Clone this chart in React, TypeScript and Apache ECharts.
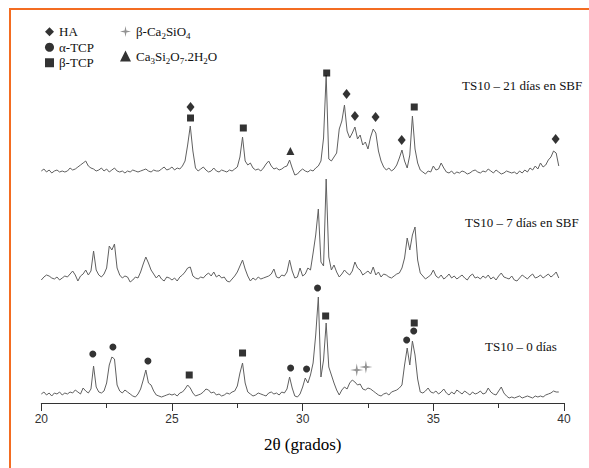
import React, { useEffect, useRef } from "react";
import * as echarts from "echarts";

// 2θ sampling of the traces
const THETA_START = 20;
const THETA_STEP = 0.1;

// Heights above each trace's baseline, 20.0 … 39.8 step 0.1
const ts21 = [
  2, 4, 1, 3, 0, 2, 3, 1, 2, 1,
  2, 5, 3, 4, 6, 8, 10, 12, 7, 5,
  4, 2, 3, 5, 2, 4, 1, 3, 5, 2,
  1, 2, 0, 2, 1, 3, 2, 1, 2, 3,
  4, 2, 1, 3, 2, 2, 4, 6, 3, 4,
  6, 3, 5, 4, 7, 12, 28, 47, 22, 5,
  2, 4, 6, 3, 1, 2, 5, 2, 1, 3,
  2, 1, 3, 2, 4, 6, 16, 36, 12, 8,
  10, 5, 3, 4, 2, 5, 9, 12, 7, 4,
  5, 3, 4, 6, 7, 13, 5, -2, -1, 2,
  4, 2, 1, 3, 2, 5, 7, 12, 35, 98,
  14, 12, 16, 20, 44, 52, 68, 42, 35, 40,
  46, 34, 38, 28, 31, 24, 36, 44, 40, 22,
  12, 6, 3, 5, 2, 4, 8, 15, 23, 12,
  5, 18, 57, 24, 10, 3, 1, -1, 2, 1,
  7, 3, 4, 10, 5, 1, 0, 2, -1, 1,
  0, 2, 1, -1, 0, 2, 3, 1, 0, 2,
  1, 4, 2, 0, 3, 1, -1, 0, 2, 1,
  0, 1, -1, 2, 0, 3, 1, 5, 3, 7,
  4, 10, 6, 8, 13, 16, 22, 20, 7,
];

const ts7 = [
  0, 3, 5, 4, 2, 1, 3, 0, 2, 4,
  3, 6, 9, 5, -1, 4, 6, 10, 5, 9,
  29, 10, 5, 3, 6, 12, 34, 30, 36, 12,
  5, 2, 4, 3, -2, 0, 3, 2, 8, 16,
  23, 17, 10, 6, 2, 5, 1, -1, 3, 2,
  0, 2, -1, 3, 5, 8, 12, 13, 4, 2,
  1, 3, 2, 5, 7, 4, 8, 3, 5, 2,
  3, -1, -2, 1, 4, 8, 14, 20, 11, 4,
  -1, 2, 0, 3, 1, 2, 3, 4, 6, 11,
  3, 2, 5, 4, 8, 20, 9, 2, 3, 12,
  4, 6, 12, 10, 27, 45, 71, 18, 14, 101,
  23, 10, 15, 8, 3, 6, 10, 7, 5, 9,
  18, 12, 10, 5, 7, 9, 6, 13, 5, 8,
  3, 6, 5, 3, 2, 4, 6, 7, 12, 22,
  42, 30, 45, 53, 20, 7, 4, 1, 3, 5,
  10, 4, 2, 5, 1, 3, 6, 2, 4, 1,
  3, 5, 2, 0, 4, 6, 2, 3, 1, 4,
  2, 5, 1, 3, 0, 4, 7, 3, 2, 1,
  4, 0, -1, 2, 5, 3, 1, 4, 6, 2,
  3, 5, 2, 4, 6, 3, 5, 8, 2,
];

const ts0 = [
  1, 3, 0, 2, -1, 2, 1, 3, 0, 2,
  1, 3, 2, 5, 3, 1, 7, 4, 2, 6,
  29, 8, 3, 2, 4, 12, 30, 38, 36, 10,
  4, 2, 5, 3, 1, -1, -2, 1, 6, 15,
  25, 12, 10, 4, 0, -1, -2, -1, 0, 1,
  0, 1, -1, 2, 3, 6, 10, 7, 2, -1,
  0, 1, 3, 6, 5, 2, 3, 0, 1, -1,
  0, 2, 1, 3, 4, 9, 22, 32, 12, 3,
  1, -1, 0, 2, 1, 0, -1, 2, 3, 1,
  2, 0, 3, 2, 6, 18, 7, -1, -2, 1,
  8, 17, 12, 20, 32, 60, 98, 18, 35, 72,
  28, 20, 12, 5, 0, 5, 8, 6, 12, 15,
  13, 10, 11, 6, 5, 7, 6, 4, 2, 0,
  -1, 1, 2, 0, 3, 4, 5, 7, 10, 30,
  47, 30, 54, 40, 16, 3, 2, 4, 7, 3,
  2, 4, 1, 3, 6, 2, 0, 3, 1, 5,
  3, 1, 4, 2, 0, 3, 1, 2, 4, 1,
  2, 7, 3, 1, 0, 4, 8, 2, -1, -3,
  -2, -3, -2, -1, -3, -2, -1, -2, -3, -1,
  -2, -1, -2, 0, 1, 2, 4, 3, 3,
];

// Vertical offsets of the stacked patterns
const traceNames = ["TS10 – 21 días en SBF", "TS10 – 7 días en SBF", "TS10 – 0 días"];
const traceOffsets = [230, 123, 8];

// Phase markers [2θ, intensity]
const haPeaks = [[25.71, 296], [31.68, 309], [32.0, 287], [32.79, 286], [33.79, 263], [39.68, 264]];
const aTcpPeaks = [[21.97, 49], [22.74, 56], [24.08, 42], [29.54, 35], [30.15, 34], [30.57, 115], [33.98, 63], [34.25, 72]];
const bTcpPeaks = [[25.71, 285], [27.73, 275], [30.92, 330], [34.27, 296], [25.66, 28], [27.7, 50], [30.88, 87], [34.27, 80]];
const c2sPeaks = [[32.07, 33], [32.42, 36]];
const hydratePeaks = [[29.53, 252]];

const xTicks = [20, 25, 30, 35, 40];

const SERIF = "Liberation Serif";
const SANS = "Liberation Sans";
const STAR = "path://M0,-10 L1.6,-1.6 L10,0 L1.6,1.6 L0,10 L-1.6,1.6 L-10,0 L-1.6,-1.6 Z";

function toRich(name: string): string {
  // digits directly after a letter become subscripts
  let out = "";
  let buf = "";
  for (let i = 0; i < name.length; i++) {
    const c = name[i];
    const prev = i > 0 ? name[i - 1] : "";
    if (/[0-9]/.test(c) && /[A-Za-z]/.test(prev)) {
      if (buf) out += `{n|${buf}}`;
      buf = "";
      out += `{s|${c}}`;
    } else {
      buf += c;
    }
  }
  if (buf) out += `{n|${buf}}`;
  return out;
}

export default function App() {
  const ref = useRef<HTMLDivElement>(null);
  useEffect(() => {
    if (!ref.current) return;
    const chart = echarts.init(ref.current, undefined, { renderer: "svg" });
    const traces = [ts21, ts7, ts0];
    const lineSeries = traces.map((arr, k) => ({
      type: "line",
      name: traceNames[k],
      data: arr.map((h, i) => [
        Math.round((THETA_START + i * THETA_STEP) * 100) / 100,
        traceOffsets[k] + h,
      ]),
      showSymbol: false,
      symbol: "none",
      lineStyle: { color: "#606060", width: 1 },
      z: 2,
    }));
    const markerStyle = { color: "#000" };
    const option: any = {
      animation: false,
      backgroundColor: "#fff",
      grid: { left: 41.3, right: 25, top: 10, bottom: 65 },
      xAxis: {
        type: "value",
        min: xTicks[0],
        max: xTicks[xTicks.length - 1],
        interval: 5,
        name: "2θ (grados)",
        nameLocation: "middle",
        nameGap: 33,
        nameTextStyle: { fontFamily: SERIF, fontSize: 17, color: "#000", fontWeight: "normal" },
        axisLine: { lineStyle: { color: "#333", width: 1 } },
        axisTick: { length: 8, lineStyle: { color: "#333" } },
        minorTick: { show: true, splitNumber: 2, length: 5, lineStyle: { color: "#333" } },
        axisLabel: { fontFamily: SANS, fontSize: 12, color: "#333", margin: 10 },
        splitLine: { show: false },
      },
      yAxis: { type: "value", min: 0, max: 393, show: false },
      legend: [
        {
          data: ["HA", "α-TCP", "β-TCP"],
          orient: "vertical",
          left: 45,
          top: 24,
          padding: 0,
          itemWidth: 9,
          itemHeight: 9,
          itemGap: 0,
          selectedMode: false,
          textStyle: { fontFamily: SERIF, fontSize: 13, color: "#111", lineHeight: 15.5 },
        },
        {
          data: ["β-Ca2SiO4", "Ca3Si2O7.2H2O"],
          orient: "vertical",
          left: 120,
          top: 25,
          padding: 0,
          itemWidth: 11,
          itemHeight: 11,
          itemGap: 9,
          selectedMode: false,
          formatter: (n: string) => toRich(n),
          textStyle: {
            fontFamily: SERIF,
            fontSize: 13,
            color: "#111",
            rich: {
              n: { fontFamily: SERIF, fontSize: 13, color: "#111", lineHeight: 18 },
              s: { fontFamily: SERIF, fontSize: 9, color: "#111", lineHeight: 12, verticalAlign: "bottom" },
            },
          },
        },
      ],
      series: [
        ...lineSeries,
        { type: "scatter", name: "HA", data: haPeaks, symbol: "diamond", symbolSize: [8, 10], itemStyle: markerStyle, z: 3 },
        { type: "scatter", name: "α-TCP", data: aTcpPeaks, symbol: "circle", symbolSize: 7, itemStyle: markerStyle, z: 3 },
        { type: "scatter", name: "β-TCP", data: bTcpPeaks, symbol: "rect", symbolSize: 7, itemStyle: markerStyle, z: 3 },
        { type: "scatter", name: "β-Ca2SiO4", data: c2sPeaks, symbol: STAR, symbolSize: 13, itemStyle: { color: "#777" }, z: 3 },
        { type: "scatter", name: "Ca3Si2O7.2H2O", data: hydratePeaks, symbol: "triangle", symbolSize: 8, itemStyle: markerStyle, z: 3 },
      ],
      graphic: [
        {
          type: "rect",
          shape: { x: 10, y: 9, width: 1000, height: 1000 },
          style: { fill: "none", stroke: "#f36c21", lineWidth: 2 },
          silent: true,
          z: -10,
        },
        {
          type: "text", x: 462, y: 85,
          style: { text: traceNames[0], font: `13px ${SERIF}`, fill: "#111", textAlign: "left", textVerticalAlign: "middle", verticalAlign: "middle" },
        },
        {
          type: "text", x: 465, y: 222,
          style: { text: traceNames[1], font: `13px ${SERIF}`, fill: "#111", textAlign: "left", textVerticalAlign: "middle", verticalAlign: "middle" },
        },
        {
          type: "text", x: 485, y: 346,
          style: { text: traceNames[2], font: `13px ${SERIF}`, fill: "#111", textAlign: "left", textVerticalAlign: "middle", verticalAlign: "middle" },
        },
      ],
    };
    chart.setOption(option);
    return () => chart.dispose();
  }, []);
  return (
    <div
      ref={ref}
      style={{ position: "absolute", left: 0, top: 0, width: 589, height: 468, background: "#fff" }}
    />
  );
}
